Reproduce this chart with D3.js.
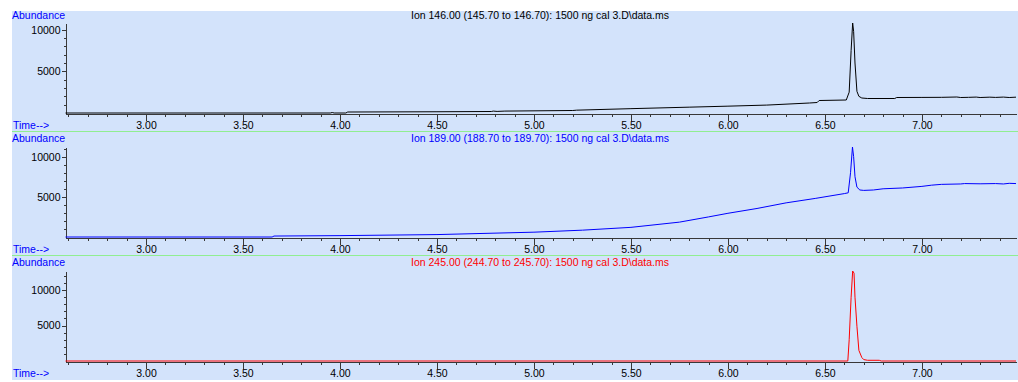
<!DOCTYPE html>
<html>
<head>
<meta charset="utf-8">
<script src="https://cdn.jsdelivr.net/npm/d3@7"></script>
<style>
  body { margin: 0; background: #fff; }
  svg text { font-family: Arial, "Liberation Sans", sans-serif; font-size: 10.5px; }
</style>
</head>
<body>
<div id="chart"></div>
<script>
// Ion chromatograms, [time (min), abundance]
const ion146 = [
  [2.585, 0], [3.95, 0], [3.96, 60], [3.97, 0], [4.03, 0], [4.04, 120], [4.5, 150],
  [4.78, 180], [4.79, 230], [4.81, 190], [4.85, 230], [5.2, 300], [5.22, 340],
  [5.5, 520], [5.8, 700], [6.0, 820], [6.2, 950], [6.42, 1200], [6.46, 1260],
  [6.47, 1500], [6.61, 1560], [6.625, 2500], [6.635, 7500], [6.643, 10800],
  [6.648, 9800], [6.655, 6000], [6.665, 2600], [6.675, 2000], [6.69, 1800],
  [6.72, 1740], [6.86, 1740], [6.87, 1860], [7.0, 1870], [7.1, 1880], [7.18, 1920],
  [7.2, 1860], [7.24, 1880], [7.28, 1910], [7.3, 1860], [7.35, 1900], [7.38, 1870],
  [7.42, 1910], [7.45, 1860], [7.485, 1900]
];
const ion189 = [
  [2.585, 0], [3.65, 0], [3.66, 120], [4.0, 170], [4.5, 300], [5.0, 600], [5.25, 850],
  [5.5, 1200], [5.75, 1850], [5.9, 2500], [6.0, 2950], [6.15, 3550], [6.3, 4250],
  [6.45, 4800], [6.6, 5400], [6.62, 5500], [6.632, 8000], [6.642, 11200],
  [6.648, 10000], [6.655, 7500], [6.665, 6200], [6.68, 5850], [6.7, 5800],
  [6.75, 5850], [6.8, 6000], [6.9, 6100], [7.0, 6300], [7.05, 6450], [7.1, 6550],
  [7.2, 6600], [7.22, 6650], [7.3, 6620], [7.38, 6650], [7.42, 6600], [7.45, 6680],
  [7.485, 6650]
];
const ion245 = [
  [2.585, 0], [6.618, 0], [6.625, 3000], [6.635, 9000], [6.643, 12700], [6.65, 12400],
  [6.655, 9000], [6.665, 4900], [6.675, 1500], [6.69, 500], [6.7, 200], [6.72, 100],
  [6.78, 100], [6.79, 0], [7.485, 0]
];

const titles = [
  'Ion 146.00 (145.70 to 146.70): 1500 ng cal 3.D\\data.ms',
  'Ion 189.00 (188.70 to 189.70): 1500 ng cal 3.D\\data.ms',
  'Ion 245.00 (244.70 to 245.70): 1500 ng cal 3.D\\data.ms'
];
const colors = ['#000000', '#0000ff', '#ff0000'];
const yMax = [10800, 11200, 12700];
const yMajor = [5000, 10000];
const timeDomain = [2.585, 7.485];
const timeMajor = d3.range(3, 7.01, 0.5);
const timeMinor = d3.range(2.6, 7.45, 0.1);
const yMinor = d3.range(1000, 12001, 1000);

const series = [ion146, ion189, ion245];

const width = 1018, height = 382;
const svg = d3.select('#chart').append('svg')
  .attr('width', width)
  .attr('height', height);

// background
svg.append('rect')
  .attr('x', 12).attr('y', 11)
  .attr('width', width - 12).attr('height', 369)
  .attr('fill', '#d3e3fb');

const x = d3.scaleLinear().domain(timeDomain).range([65.5, 1016]);

series.forEach((data, i) => {
  const top = 7 + 124 * i;
  const base = top + 106;
  const y = d3.scaleLinear().domain([0, yMax[i]]).range([base, top + 16]);
  const g = svg.append('g');

  if (i < 2) {
    g.append('line')
      .attr('x1', 12).attr('x2', width)
      .attr('y1', top + 124.5).attr('y2', top + 124.5)
      .attr('stroke', '#90ee90');
  }

  const ty = i === 0 ? top + 11.5 : top + 11;
  g.append('text').attr('x', 12).attr('y', ty)
    .attr('fill', '#0000ff').text('Abundance');
  g.append('text').attr('x', 13).attr('y', top + 122)
    .attr('fill', '#0000ff').text('Time-->');
  g.append('text').attr('x', 540).attr('y', ty)
    .attr('text-anchor', 'middle')
    .attr('fill', colors[i]).text(titles[i]);

  // x axis
  g.append('g')
    .attr('transform', `translate(0,${base + 0.5})`)
    .call(d3.axisBottom(x).tickValues(timeMinor).tickSize(3).tickSizeOuter(0).tickFormat(''));
  const xMajor = g.append('g')
    .attr('transform', `translate(0,${base + 0.5})`)
    .call(d3.axisBottom(x).tickValues(timeMajor).tickSize(7).tickPadding(1)
      .tickSizeOuter(0).tickFormat(d3.format('.2f')));
  xMajor.select('.domain').remove();

  // y axis
  g.append('g')
    .attr('transform', 'translate(65.5,0)')
    .call(d3.axisLeft(y).tickValues(yMinor.filter(v => v < yMax[i] && !yMajor.includes(v)))
      .tickSize(2).tickSizeOuter(0).tickFormat(''));
  const yMaj = g.append('g')
    .attr('transform', 'translate(65.5,0)')
    .call(d3.axisLeft(y).tickValues(yMajor).tickSize(4).tickPadding(1)
      .tickSizeOuter(0).tickFormat(d3.format('d')));
  yMaj.select('.domain').remove();

  g.selectAll('.domain, .tick line').attr('stroke', '#383838').attr('shape-rendering', 'crispEdges');
  g.selectAll('.tick text').attr('fill', '#000').style('font-size', '10.5px');

  // trace
  const line = d3.line().x(d => x(d[0])).y(d => y(d[1]));
  g.append('path')
    .datum(data)
    .attr('d', line)
    .attr('fill', 'none')
    .attr('stroke', colors[i])
    .attr('stroke-width', 1);
});
</script>
</body>
</html>
